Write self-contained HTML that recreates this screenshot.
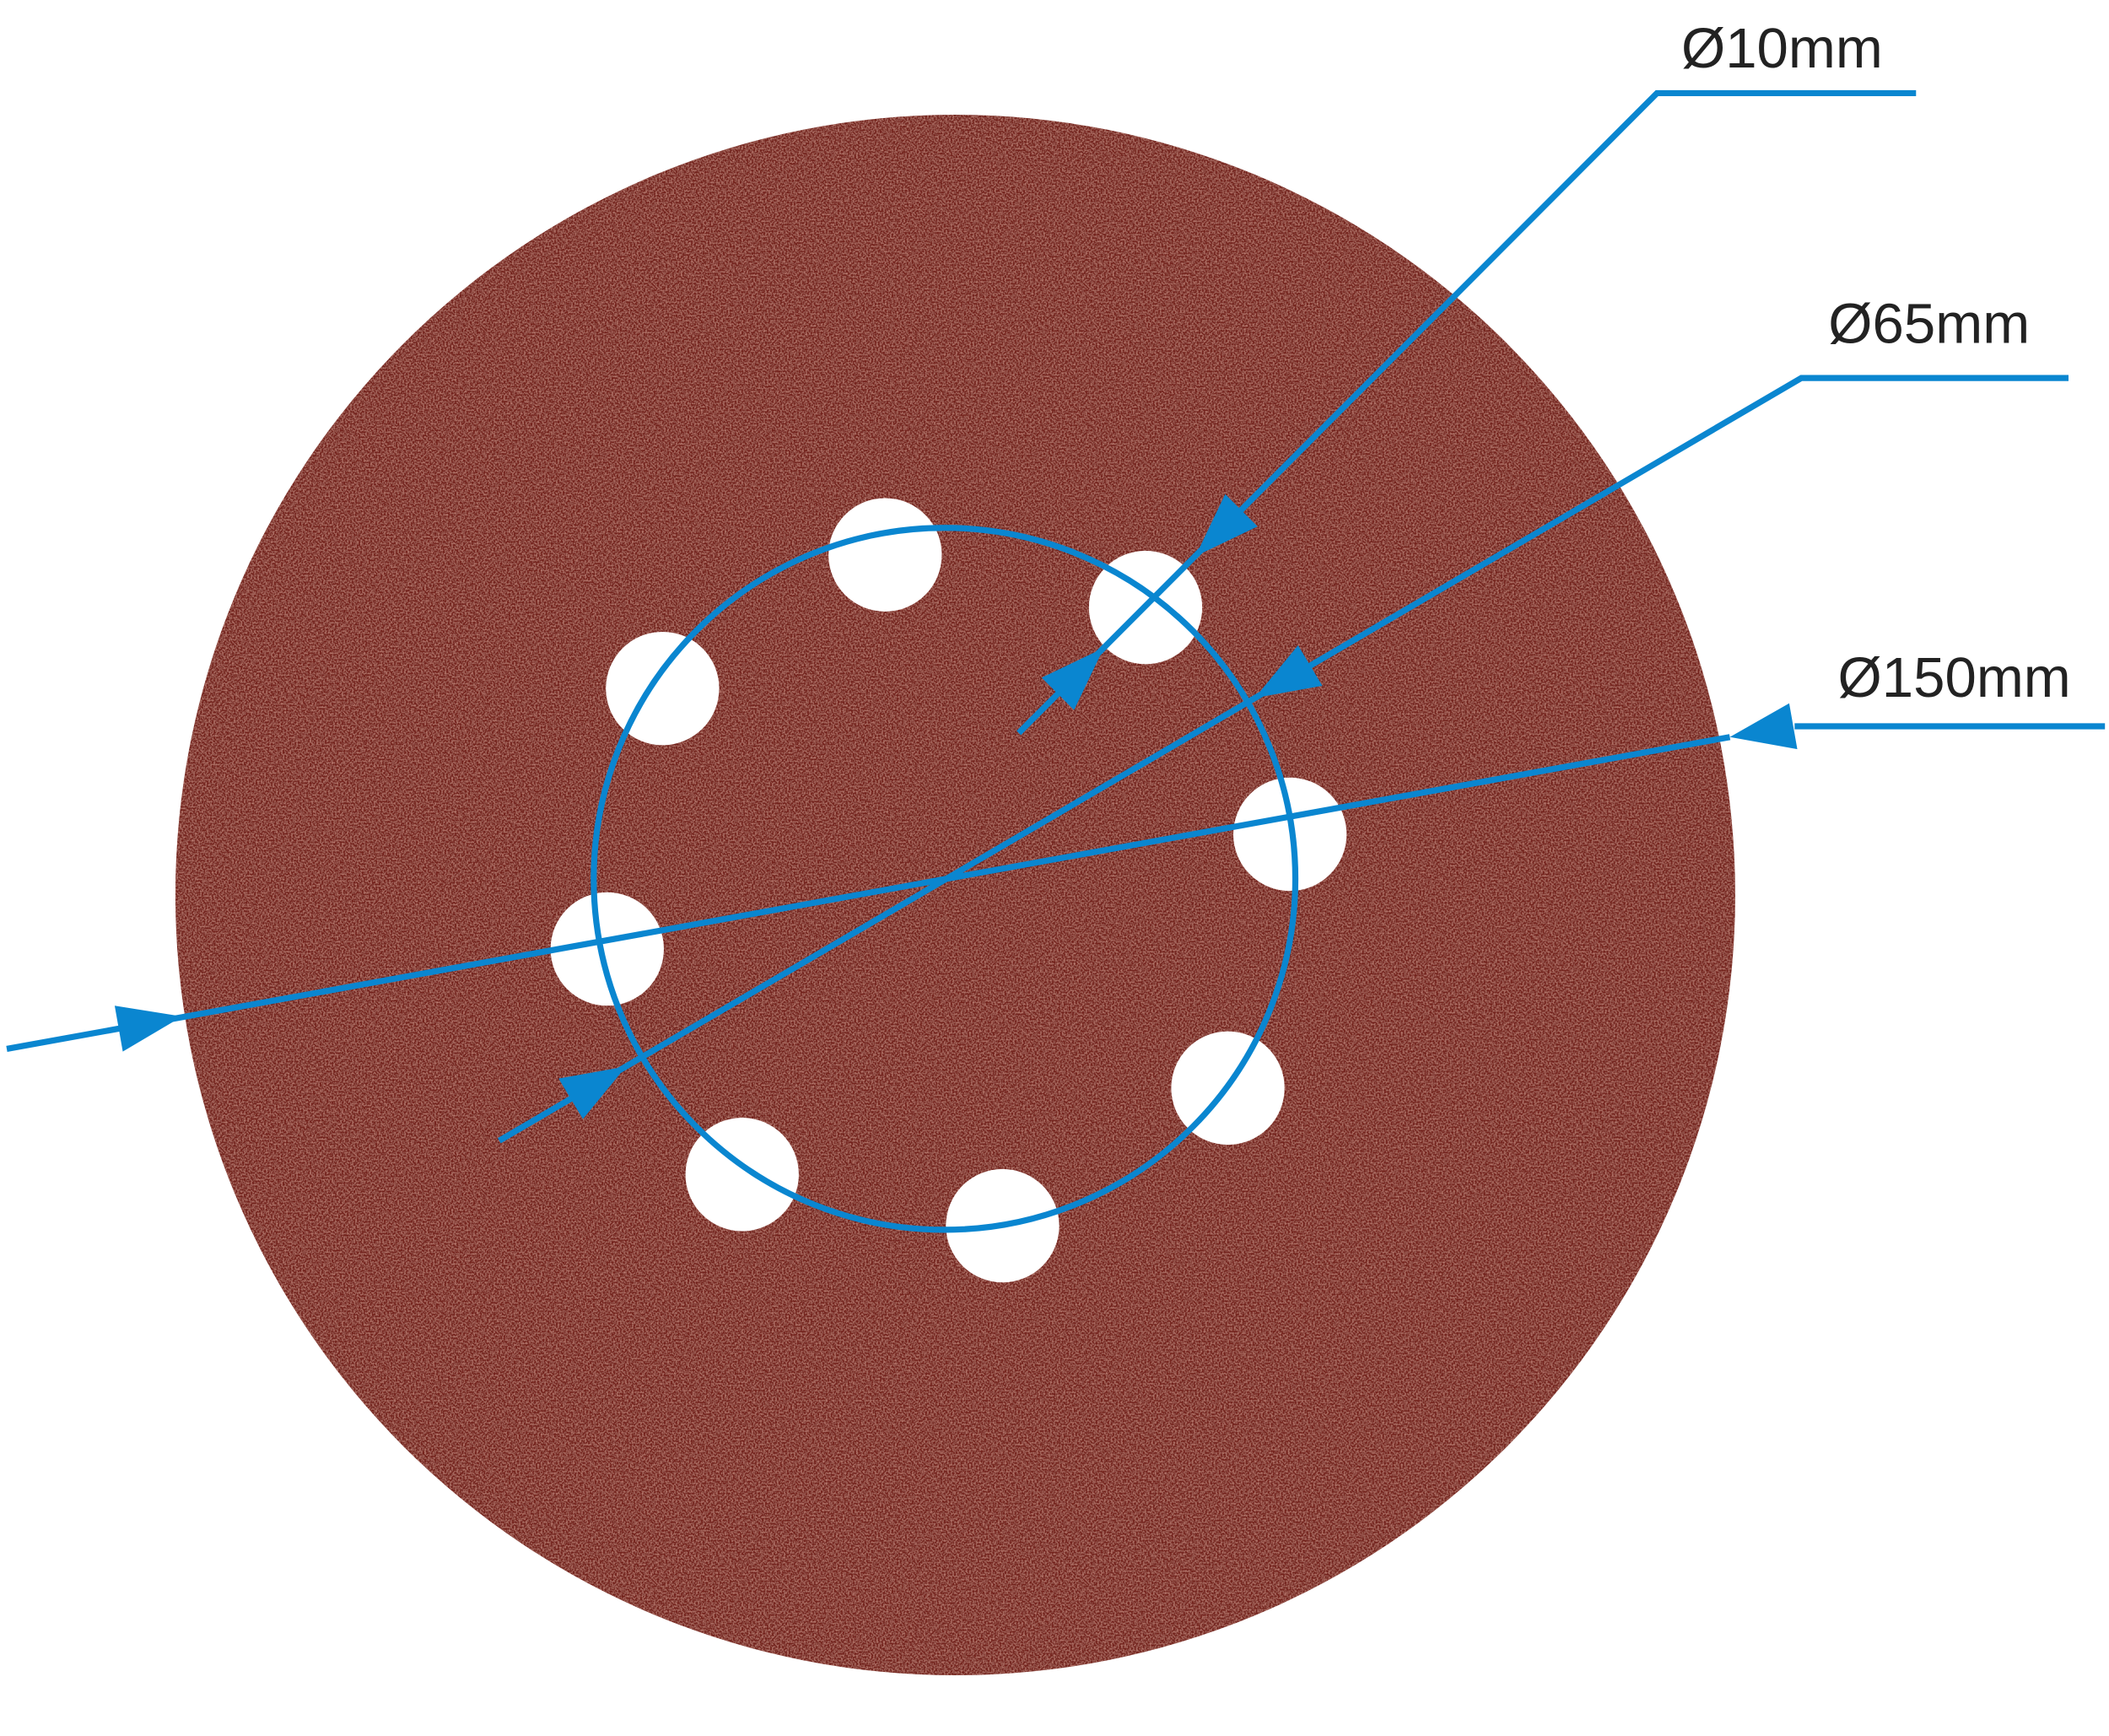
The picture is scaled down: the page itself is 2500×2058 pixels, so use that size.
<!DOCTYPE html>
<html><head><meta charset="utf-8"><style>
html,body{margin:0;padding:0;background:#fff;}
svg{display:block;}
</style></head><body>
<svg width="2500" height="2058" viewBox="0 0 1563 1286" preserveAspectRatio="none" xmlns="http://www.w3.org/2000/svg">
<defs>
<filter id="grain" x="0" y="0" width="100%" height="100%">
<feTurbulence type="fractalNoise" baseFrequency="0.8" numOctaves="2" seed="3" result="n"/>
<feColorMatrix in="n" type="matrix" values="0 0 0 0 0.62  0 0 0 0 0.27  0 0 0 0 0.22  0 0 0 1.6 -0.6" result="c"/>
<feComposite in="c" in2="SourceGraphic" operator="in" result="t"/>
<feMerge><feMergeNode in="SourceGraphic"/><feMergeNode in="t"/></feMerge>
</filter>
</defs>
<circle cx="708" cy="663" r="578" fill="#73241e" filter="url(#grain)"/>
<g fill="#fff">
<circle cx="656" cy="411" r="42"/>
<circle cx="849" cy="450" r="42"/>
<circle cx="956" cy="618" r="42"/>
<circle cx="910" cy="806" r="42"/>
<circle cx="743" cy="908" r="42"/>
<circle cx="550" cy="870" r="42"/>
<circle cx="450" cy="703" r="42"/>
<circle cx="491" cy="510" r="42"/>
</g>
<g stroke="#0a86d0" stroke-width="4.5" fill="none">
<ellipse cx="700" cy="651" rx="260" ry="260"/>
<polyline points="5,777 1282,546"/>
<polyline points="1330,538 1560,538"/>
<polyline points="370,845 1335,280 1533,280"/>
<polyline points="755,543 1228,69 1420,69"/>
</g>
<g fill="#0a86d0">
<polygon points="135,753 91,779 85,745"/>
<polygon points="1282,546 1332,555 1326,521"/>
<polygon points="464,790 432,829 414,799"/>
<polygon points="930,517 980,508 962,478"/>
<polygon points="818,480 796,526 772,502"/>
<polygon points="886,412 932,390 908,366"/>
</g>
<g font-family="Liberation Sans, sans-serif" font-size="42" fill="#222">
<text x="1246" y="50">Ø10mm</text>
<text x="1355" y="254">Ø65mm</text>
<text x="1362" y="516">Ø150mm</text>
</g>
</svg>
</body></html>
